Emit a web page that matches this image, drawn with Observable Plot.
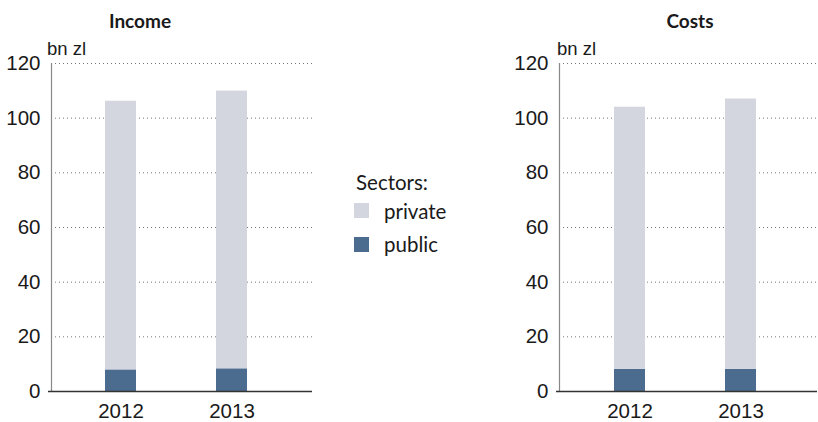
<!DOCTYPE html>
<html>
<head>
<meta charset="utf-8">
<script src="https://cdn.jsdelivr.net/npm/d3@7"></script>
<script src="https://cdn.jsdelivr.net/npm/@observablehq/plot@0.6"></script>
<style>
  html, body { margin: 0; padding: 0; background: #fff; }
  #wrap { position: relative; width: 818px; height: 422px; overflow: hidden; }
  .panel { position: absolute; top: 0; }
  .panel text { font-family: "Liberation Sans", Arial, sans-serif; }
  .title { position: absolute; font-family: Lato, "Open Sans", sans-serif; font-weight: bold; font-size: 19px; line-height: 22px; color: #1a1a1a; transform: translateX(-50%); white-space: nowrap; }
  .unit { position: absolute; font-family: "Liberation Sans", Arial, sans-serif; font-size: 18.5px; line-height: 21px; color: #1a1a1a; white-space: nowrap; }
  .legend { position: absolute; font-family: Lato, "Open Sans", sans-serif; font-size: 20.5px; line-height: 24px; color: #1a1a1a; }
  .legend .row { position: absolute; white-space: nowrap; }
  .legend .sw { position: absolute; width: 15px; height: 15px; }
</style>
</head>
<body>
<div id="wrap"></div>
<script>
const years = ["2012", "2013"];
const sectors = ["public", "private"];
const sectorColors = ["#4b6b8f", "#d3d6df"];
const incomePublic = [7.9, 8.3];
const incomePrivate = [98.3, 101.6];
const costsPublic = [8.1, 8.1];
const costsPrivate = [95.9, 98.9];
const yTicks = [0, 20, 40, 60, 80, 100, 120];
const titles = ["Income", "Costs"];
const unitLabel = "bn zl";
const legendTitle = "Sectors:";

function table(pub, priv) {
  const rows = [];
  years.forEach((y, i) => {
    rows.push({year: y, sector: "public", value: pub[i]});
    rows.push({year: y, sector: "private", value: priv[i]});
  });
  return rows;
}

function panel(data, opts) {
  return Plot.plot({
    width: opts.width,
    height: 422,
    marginLeft: opts.marginLeft,
    marginRight: opts.marginRight,
    marginTop: 63,
    marginBottom: 31,
    style: {color: "#1a1a1a", background: "transparent"},
    x: {domain: years, range: opts.xRange, paddingInner: 0.723, paddingOuter: 0, label: null},
    y: {domain: [0, 120], label: null},
    color: {domain: sectors, range: sectorColors},
    marks: [
      Plot.gridY(yTicks, {stroke: "#777", strokeOpacity: 1, strokeDasharray: "1,3"}),
      Plot.barY(data, {x: "year", y: "value", fill: "sector", order: sectors}),
      Plot.frame({anchor: "left", stroke: "#888", strokeWidth: 1.2}),
      Plot.ruleY([0], {stroke: "#333", strokeWidth: 1.3, insetLeft: -3}),
      Plot.axisY({ticks: yTicks, tickSize: 0, tickPadding: 11, fontSize: 20.5, label: null}),
      Plot.axisX({tickSize: 0, tickPadding: 12, fontSize: 20.5, label: null})
    ]
  });
}

const wrap = document.getElementById("wrap");

const left = panel(table(incomePublic, incomePrivate), {width: 330, marginLeft: 51, marginRight: 18, xRange: [104.5, 247.5]});
left.classList.add("panel");
left.style.left = "0px";
wrap.appendChild(left);

const right = panel(table(costsPublic, costsPrivate), {width: 318, marginLeft: 59, marginRight: 1, xRange: [113, 256]});
right.classList.add("panel");
right.style.left = "500px";
wrap.appendChild(right);

function addDiv(cls, text, x, y) {
  const d = document.createElement("div");
  d.className = cls;
  d.textContent = text;
  d.style.left = x + "px";
  d.style.top = y + "px";
  wrap.appendChild(d);
  return d;
}
addDiv("title", titles[0], 140, 10);
addDiv("title", titles[1], 690, 10);
addDiv("unit", unitLabel, 47, 38);
addDiv("unit", unitLabel, 557, 38);

const leg = document.createElement("div");
leg.className = "legend";
leg.style.left = "353px";
leg.style.top = "0px";
wrap.appendChild(leg);
const lt = document.createElement("div");
lt.className = "row";
lt.textContent = legendTitle;
lt.style.left = "3px";
lt.style.top = "170px";
leg.appendChild(lt);
const legendOrder = ["private", "public"];
legendOrder.forEach((s, i) => {
  const sw = document.createElement("div");
  sw.className = "sw";
  sw.style.left = "1px";
  sw.style.top = (203 + i * 34) + "px";
  sw.style.background = sectorColors[sectors.indexOf(s)];
  leg.appendChild(sw);
  const t = document.createElement("div");
  t.className = "row";
  t.textContent = s;
  t.style.left = "31px";
  t.style.top = (199 + i * 33) + "px";
  leg.appendChild(t);
});
</script>
</body>
</html>
